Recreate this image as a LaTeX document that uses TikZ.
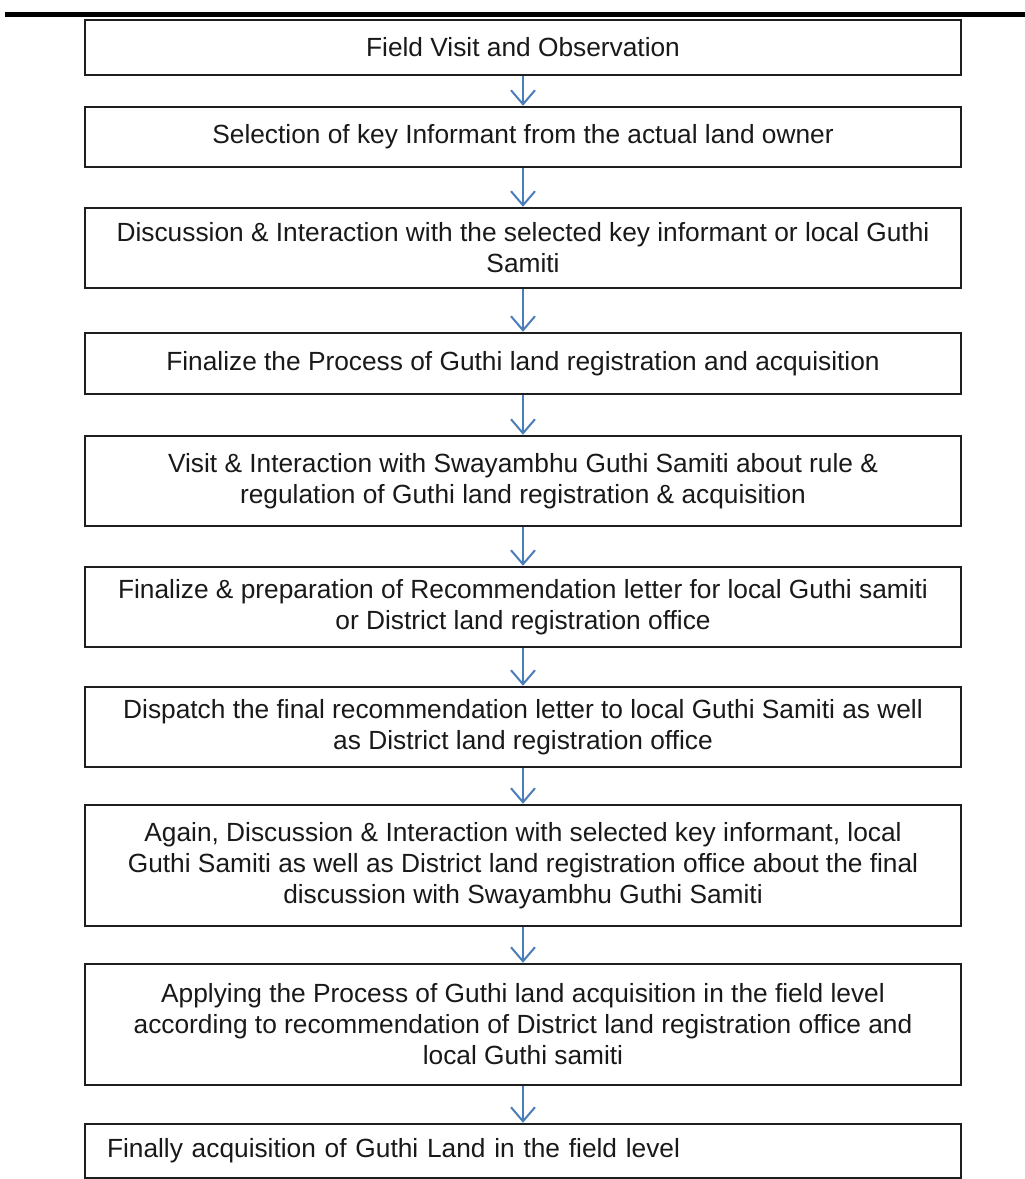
\documentclass[tikz,border=0pt]{standalone}
\usepackage{fontspec}
\setmainfont{Liberation Sans}
\usetikzlibrary{arrows.meta}
\definecolor{arrowblue}{RGB}{74,126,187}
\definecolor{boxline}{RGB}{30,30,30}
\begin{document}
\begin{tikzpicture}[x=1pt,y=-1pt,
  stepbox/.style={draw=boxline, line width=2.5pt, minimum width=876pt, inner sep=0pt,
    align=center, text=black!90, font=\fontsize{26.3}{31}\selectfont},
  flow/.style={draw=arrowblue, line width=2pt,
    -{Straight Barb[length=14pt,width=24pt,line width=2pt]}}]
\useasboundingbox[fill=white] (0,0) rectangle (1025,1179);
\draw[line width=5pt, black] (5,14.5) -- (1025,14.5);

\node[stepbox, minimum height=55pt] (b1) at (523,47.5) {Field Visit and Observation};
\node[stepbox, minimum height=60pt] (b2) at (523,137) {Selection of key Informant from the actual land owner};
\node[stepbox, minimum height=80pt] (b3) at (523,248) {Discussion \& Interaction with the selected key informant or local Guthi\\Samiti};
\node[stepbox, minimum height=61pt] (b4) at (523,363.5) {Finalize the Process of Guthi land registration and acquisition};
\node[stepbox, minimum height=90pt] (b5) at (523,481) {Visit \& Interaction with Swayambhu Guthi Samiti about rule \&\\regulation of Guthi land registration \& acquisition};
\node[stepbox, minimum height=80pt] (b6) at (523,607) {Finalize \& preparation of Recommendation letter for local Guthi samiti\\or District land registration office};
\node[stepbox, minimum height=80pt] (b7) at (523,727) {Dispatch the final recommendation letter to local Guthi Samiti as well\\as District land registration office};
\node[stepbox, minimum height=121pt] (b8) at (523,865.5) {Again, Discussion \& Interaction with selected key informant, local\\Guthi Samiti as well as District land registration office about the final\\discussion with Swayambhu Guthi Samiti};
\node[stepbox, minimum height=121pt] (b9) at (523,1024.5) {Applying the Process of Guthi land acquisition in the field level\\according to recommendation of District land registration office and\\local Guthi samiti};
\node[stepbox, minimum height=54pt, text width=832pt, align=left] (b10) at (523,1151) {Finally acquisition of Guthi Land in the field level};

\draw[flow] (b1) -- (b2);
\draw[flow] (b2) -- (b3);
\draw[flow] (b3) -- (b4);
\draw[flow] (b4) -- (b5);
\draw[flow] (b5) -- (b6);
\draw[flow] (b6) -- (b7);
\draw[flow] (b7) -- (b8);
\draw[flow] (b8) -- (b9);
\draw[flow] (b9) -- (b10);
\end{tikzpicture}
\end{document}
